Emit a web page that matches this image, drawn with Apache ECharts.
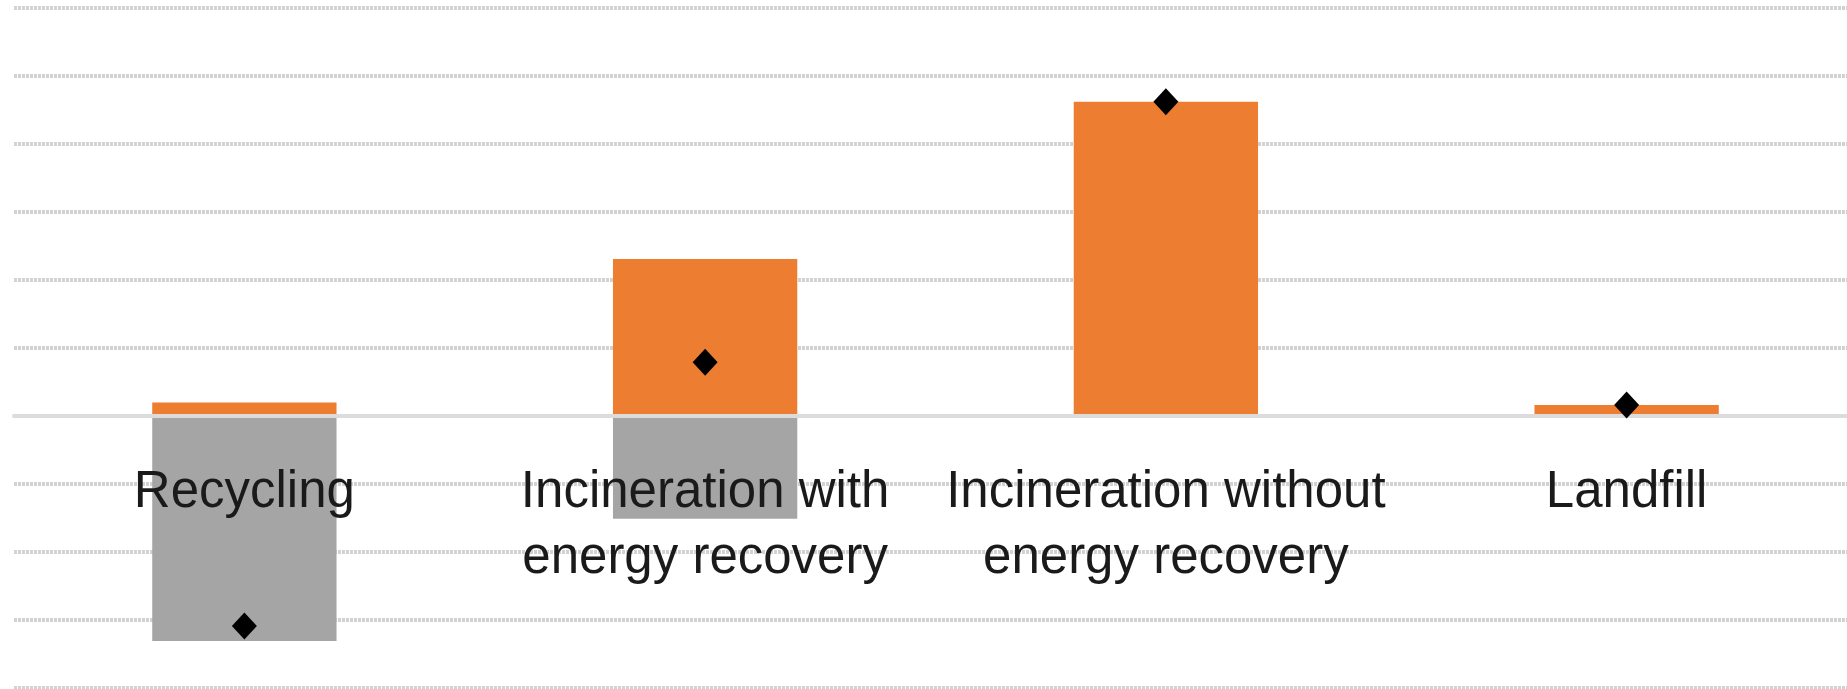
<!DOCTYPE html>
<html>
<head>
<meta charset="utf-8">
<script src="https://cdn.jsdelivr.net/npm/echarts@6/dist/echarts.min.js"></script>
<style>
html,body{margin:0;padding:0;background:#fff;}
#chart{width:1847px;height:689px;}
</style>
</head>
<body>
<div id="chart"></div>
<script>
const categories = ['Recycling', 'Incineration with\nenergy recovery', 'Incineration without\nenergy recovery', 'Landfill'];
const emissions = [0.2, 2.31, 4.62, 0.16];
const savings = [-3.31, -1.51, 0, 0];
const netValues = [-3.09, 0.79, 4.62, 0.16];
const yMin = -4, yMax = 6, yStep = 1;

const chart = echarts.init(document.getElementById('chart'));
chart.setOption({
  animation: false,
  grid: { left: 14, right: -10, top: 8, bottom: 1, containLabel: false, outerBoundsMode: 'none' },
  xAxis: {
    type: 'category',
    data: categories,
    z: 10,
    offset: -272,
    axisLine: { show: true, onZero: false, lineStyle: { color: '#dcdcdc', width: 4 } },
    axisTick: { show: false },
    axisLabel: {
      interval: 0,
      margin: 44,
      fontFamily: 'Liberation Sans',
      fontSize: 51,
      lineHeight: 66,
      color: '#1a1a1a'
    }
  },
  yAxis: {
    type: 'value',
    min: yMin, max: yMax, interval: yStep,
    axisLabel: { show: false },
    axisLine: { show: false },
    axisTick: { show: false },
    splitLine: { show: true, lineStyle: { color: '#d2d2d2', width: 4, type: [3, 1] } }
  },
  series: [
    { name: 'Emissions', type: 'bar', stack: 'a', barWidth: '40%', data: emissions, itemStyle: { color: '#ed7d31' } },
    { name: 'Savings', type: 'bar', stack: 'a', barWidth: '40%', data: savings, itemStyle: { color: '#a5a5a5' } },
    { name: 'Net', type: 'scatter', z: 20, symbol: 'diamond', symbolSize: [25, 27], data: netValues, itemStyle: { color: '#000', opacity: 1 } }
  ]
});
</script>
</body>
</html>
